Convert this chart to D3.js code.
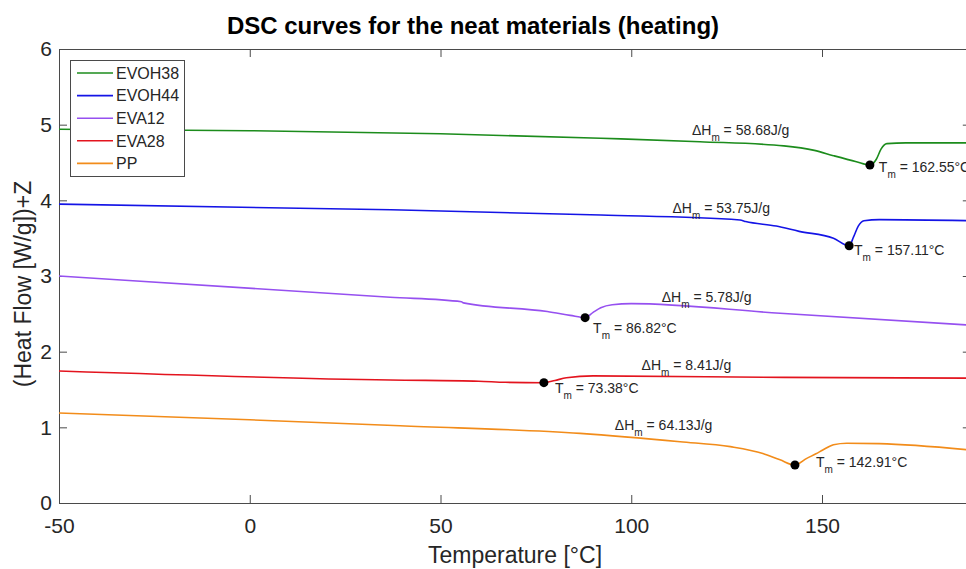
<!DOCTYPE html>
<html>
<head>
<meta charset="utf-8">
<script src="https://cdn.jsdelivr.net/npm/d3@7"></script>
<style>
  body { margin: 0; background: #fff; }
  text { font-family: "Liberation Sans", Arial, Helvetica, sans-serif; }
</style>
</head>
<body>
<svg id="chart" width="966" height="569"></svg>
<script>
// values: [temperature °C, (heat flow)+Z]
var seriesNames = ["EVOH38", "EVOH44", "EVA12", "EVA28", "PP"];
var seriesColors = ["#1c8c1c", "#1414e6", "#9650f0", "#e3141e", "#f28c1a"];

var evoh38 = [[-50,4.94],[0,4.92],[50,4.88],[92,4.82],[118,4.775],[140,4.72],[148,4.66],[153,4.59],
              [159,4.51],[162.55,4.467],[164.2,4.54],[165.5,4.68],[167,4.75],[172,4.76],[189,4.76]];
var evoh44 = [[-50,3.95],[37,3.875],[92,3.806],[128.5,3.74],[130,3.72],[138,3.66],[144,3.59],[153,3.50],
              [157.11,3.40],[158.3,3.52],[159.5,3.66],[161,3.73],[165,3.745],[189,3.73]];
var eva12  = [[-50,3.00],[36.8,2.72],[55.5,2.66],[56,2.645],[78,2.53],[84,2.48],[87.9,2.449],[90,2.52],
              [92,2.58],[95,2.62],[100,2.635],[139,2.507],[189,2.35]];
var eva28  = [[-50,1.745],[36.8,1.625],[60,1.61],[67,1.595],[77.1,1.59],[80,1.62],[83,1.655],[90,1.68],
              [140,1.66],[189,1.65]];
var pp     = [[-50,1.19],[0,1.10],[39.4,1.02],[86.6,0.92],[112.8,0.81],[126,0.745],[134.5,0.655],[139,0.57],
              [142.91,0.502],[146,0.59],[148.4,0.65],[150.2,0.70],[153,0.77],[156.5,0.79],[165,0.785],[189,0.70]];
var allSeries = [evoh38, evoh44, eva12, eva28, pp];

// melting peaks (marker) and the annotation texts
var peakTemp  = [162.55, 157.11, 87.9, 77.1, 142.91];
var peakValue = [4.467, 3.40, 2.449, 1.59, 0.502];
var tmText = ["162.55", "157.11", "86.82", "73.38", "142.91"];
var dhText = ["58.68", "53.75", "5.78", "8.41", "64.13"];
var dhAt = [[115.9,4.863],[110.8,3.836],[108,2.66],[102.7,1.758],[95.7,0.965]];
var tmAt = [[164.9,4.378],[158.4,3.277],[90,2.247],[80,1.454],[148.4,0.48]];

var xTicks = [-50, 0, 50, 100, 150];
var yTicks = [0, 1, 2, 3, 4, 5, 6];

var svg = d3.select("#chart");
var axisColor = "#4a4a4a", textColor = "#262626";

var x = d3.scaleLinear().domain([-50, 189]).range([59, 970.8]);
var y = d3.scaleLinear().domain([0, 6]).range([503, 49]);
var plainNumber = function(d){ return String(d); };

// axes (ticks inside, box on)
function styleAxis(g, showText) {
    g.select(".domain").attr("stroke", axisColor).attr("stroke-width", 1);
    g.selectAll(".tick line").attr("stroke", axisColor);
    g.selectAll(".tick text").attr("fill", textColor).style("font-size", "21px");
    if (!showText) g.selectAll(".tick text").remove();
}
svg.append("g").attr("transform", "translate(0,503)")
    .call(d3.axisBottom(x).tickValues(xTicks).tickFormat(plainNumber).tickSizeInner(-8).tickSizeOuter(0).tickPadding(15))
    .call(function(g){ styleAxis(g, true); });
svg.append("g").attr("transform", "translate(0,49)")
    .call(d3.axisTop(x).tickValues(xTicks).tickSizeInner(-8).tickSizeOuter(0))
    .call(function(g){ styleAxis(g, false); });
svg.append("g").attr("transform", "translate(59,0)")
    .call(d3.axisLeft(y).tickValues(yTicks).tickFormat(plainNumber).tickSizeInner(-8).tickSizeOuter(0).tickPadding(7))
    .call(function(g){ styleAxis(g, true); });
svg.append("g").attr("transform", "translate(970.8,0)")
    .call(d3.axisRight(y).tickValues(yTicks).tickSizeInner(-8).tickSizeOuter(0))
    .call(function(g){ styleAxis(g, false); });

// curves
var line = d3.line()
    .x(function(d){ return x(d[0]); })
    .y(function(d){ return y(d[1]); })
    .curve(d3.curveMonotoneX);

svg.append("g").selectAll("path").data(allSeries).enter().append("path")
    .attr("d", line)
    .attr("fill", "none")
    .attr("stroke", function(d, i){ return seriesColors[i]; })
    .attr("stroke-width", 1.6);

// peak markers
svg.append("g").selectAll("circle").data(peakTemp).enter().append("circle")
    .attr("cx", function(d){ return x(d); })
    .attr("cy", function(d, i){ return y(peakValue[i]); })
    .attr("r", 4.5)
    .attr("fill", "#000");

// annotations with subscript m
function subLabel(sym, rest, at) {
    var t = svg.append("text")
        .attr("x", x(at[0])).attr("y", y(at[1]))
        .attr("fill", textColor).style("font-size", "14px");
    t.append("tspan").text(sym);
    t.append("tspan").attr("dy", 6).style("font-size", "10px").text("m");
    t.append("tspan").attr("dy", -6).text(rest);
}
dhText.forEach(function(v, i){ subLabel("\u0394H", " = " + v + "J/g", dhAt[i]); });
tmText.forEach(function(v, i){ subLabel("T", " = " + v + "\u00B0C", tmAt[i]); });

// title and axis labels
svg.append("text").attr("x", 473).attr("y", 34).attr("text-anchor", "middle")
    .style("font-size", "24px").style("font-weight", "bold").attr("fill", "#000")
    .text("DSC curves for the neat materials (heating)");
svg.append("text").attr("x", 515).attr("y", 563).attr("text-anchor", "middle")
    .style("font-size", "23px").attr("fill", textColor)
    .text("Temperature [\u00B0C]");
svg.append("text").attr("transform", "translate(31,284) rotate(-90)").attr("text-anchor", "middle")
    .style("font-size", "23px").attr("fill", textColor)
    .text("(Heat Flow [W/g])+Z");

// legend
var legend = svg.append("g");
legend.append("rect").attr("x", 70.5).attr("y", 60.5).attr("width", 114).attr("height", 116)
    .attr("fill", "#fff").attr("stroke", axisColor).attr("stroke-width", 1);
var items = legend.selectAll("g.item").data(seriesNames).enter().append("g")
    .attr("class", "item")
    .attr("transform", function(d, i){ return "translate(0," + (73 + i * 22.6) + ")"; });
items.append("line").attr("x1", 77).attr("x2", 113).attr("y1", 0).attr("y2", 0)
    .attr("stroke", function(d, i){ return seriesColors[i]; }).attr("stroke-width", 1.6);
items.append("text").attr("x", 116).attr("y", 0).attr("dy", "0.36em")
    .style("font-size", "16px").attr("fill", textColor)
    .text(function(d){ return d; });
</script>
</body>
</html>
